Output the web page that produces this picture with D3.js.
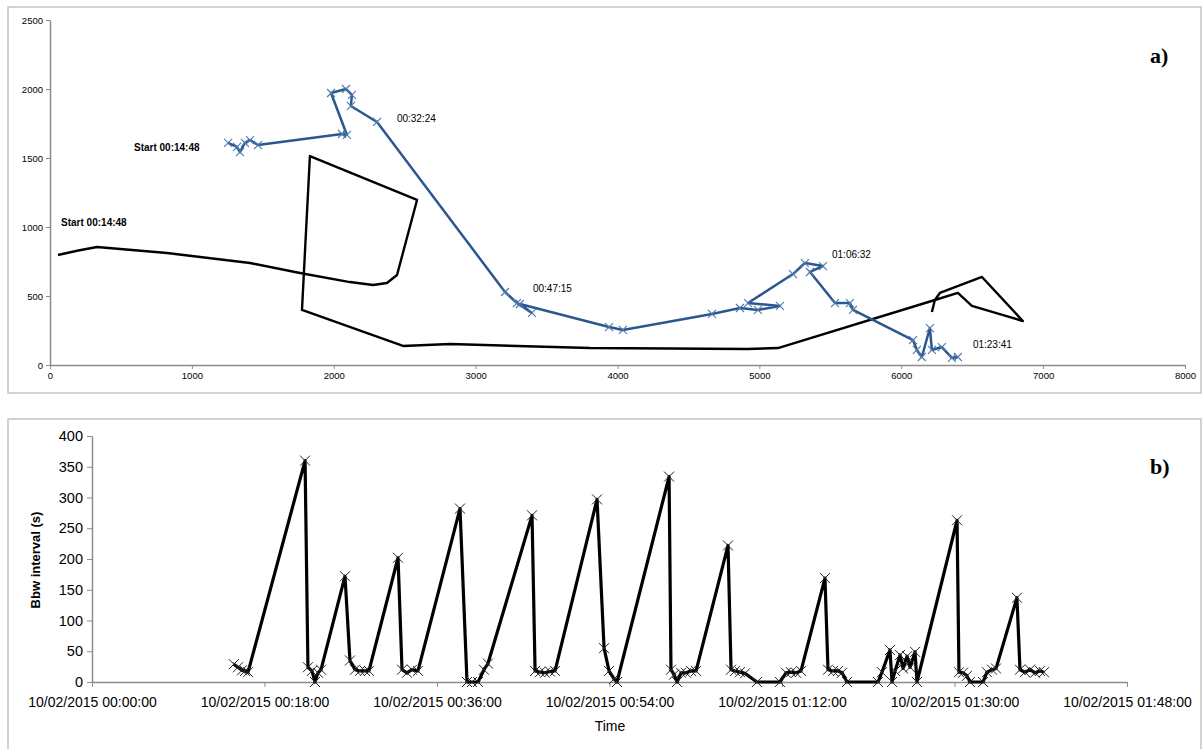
<!DOCTYPE html>
<html>
<head>
<meta charset="utf-8">
<script src="https://cdn.jsdelivr.net/npm/d3@7"></script>
<style>
  body { margin: 0; background: #fff; }
  svg { display: block; }
  .ax text { font-family: "Liberation Sans Narrow", "Arial Narrow", sans-serif; fill: #000; }
</style>
</head>
<body>
<svg width="1203" height="749"></svg>
<script>
// ---- panel a) : positions (m)
const trackX = [56, 200, 331, 825, 1410, 1762, 2114, 2277, 2375, 2446, 2587, 1832, 1776, 2488, 2819, 3806, 4913, 5131, 6237, 6399, 6498, 6857, 6569, 6272, 6237, 6216];
const trackY = [797, 830, 855, 812, 739, 667, 601, 580, 594, 652, 1196, 1514, 399, 138, 152, 123, 116, 123, 471, 522, 428, 319, 638, 522, 471, 384];

const blueX = [1255, 1318, 1339, 1374, 1410, 1466, 2058, 2093, 1981, 2086, 2128, 2121, 2305, 3207, 3291, 3397, 3312, 3940, 4038, 4666, 4863, 4990, 5145, 4920, 5237, 5321, 5448, 5357, 5533, 5638, 5660, 6083, 6110, 6145, 6202, 6216, 6286, 6357, 6399];
const blueY = [1609, 1580, 1543, 1609, 1630, 1594, 1674, 1667, 1971, 2000, 1957, 1877, 1761, 529, 449, 377, 442, 275, 254, 370, 413, 399, 428, 449, 659, 739, 717, 674, 449, 449, 399, 181, 109, 58, 268, 109, 130, 51, 58];

const labelText = ["Start 00:14:48", "Start 00:14:48", "00:32:24", "00:47:15", "01:06:32", "01:23:41"];
const labelX = [592, 78, 2445, 3404, 5512, 6505];
const labelY = [1572, 1029, 1783, 551, 797, 145];

const aTicksX = [0, 1000, 2000, 3000, 4000, 5000, 6000, 7000, 8000];
const aTicksY = [0, 500, 1000, 1500, 2000, 2500];

// ---- panel b) : Bbw interval
const bbwTimes = [
  "00:14:48", "00:15:14", "00:15:39", "00:15:58", "00:16:17", "00:22:14", "00:22:32", "00:22:57", "00:23:16", "00:23:35", "00:23:54",
  "00:26:24", "00:26:55", "00:27:27", "00:27:58", "00:28:29", "00:28:54", "00:31:56", "00:32:21", "00:32:52", "00:33:23", "00:34:01",
  "00:38:24", "00:39:08", "00:39:39", "00:40:17", "00:40:54", "00:41:19", "00:45:55", "00:46:14", "00:46:45", "00:47:16", "00:47:47", "00:48:19",
  "00:52:42", "00:53:26", "00:53:57", "00:54:28", "00:54:47", "01:00:13", "01:00:25", "01:00:44", "01:01:03", "01:01:28", "01:01:59", "01:02:30", "01:03:02",
  "01:06:22", "01:06:41", "01:07:06", "01:07:37", "01:08:08", "01:09:23", "01:11:47", "01:12:25", "01:12:56", "01:13:28", "01:13:59",
  "01:16:29", "01:16:48", "01:17:19", "01:17:51", "01:18:16", "01:18:47", "01:22:01", "01:22:26", "01:23:16", "01:23:29", "01:23:48", "01:24:19",
  "01:24:38", "01:25:03", "01:25:22", "01:25:53", "01:26:05", "01:30:16", "01:30:28", "01:30:53", "01:31:18", "01:31:37", "01:32:59", "01:33:23",
  "01:33:55", "01:34:20", "01:36:31", "01:36:50", "01:37:21", "01:37:53", "01:38:24", "01:38:55", "01:39:20"
];
const bbwValues = [
  29, 24, 19, 18, 16, 360, 24, 18, 0, 15, 20,
  172, 35, 20, 18, 18, 18, 202, 20, 15, 20, 18,
  282, 0, 0, 0, 20, 30, 271, 18, 16, 15, 17, 18,
  297, 55, 18, 5, 0, 334, 20, 12, 0, 15, 15, 18, 18,
  222, 20, 18, 16, 14, 0, 0, 15, 16, 15, 18,
  169, 20, 18, 18, 15, 0, 0, 16, 52, 0, 18, 44,
  22, 42, 24, 49, 0, 263, 16, 15, 10, 0, 0, 16,
  20, 22, 137, 20, 16, 20, 15, 18, 16
];

const bTicksTime = ["00:00:00", "00:18:00", "00:36:00", "00:54:00", "01:12:00", "01:30:00", "01:48:00"];
const bTicksY = [0, 50, 100, 150, 200, 250, 300, 350, 400];

const svg = d3.select("svg");
const blue = "#2b5790";

// cadres des deux panneaux
svg.append("rect").attr("x", 8).attr("y", 7).attr("width", 1193).attr("height", 386)
  .attr("fill", "none").attr("stroke", "#c4c4c4").attr("stroke-width", 1.5);
svg.append("rect").attr("x", 8).attr("y", 419).attr("width", 1193).attr("height", 340)
  .attr("fill", "none").attr("stroke", "#c4c4c4").attr("stroke-width", 1.5);

function cross(s) {
  return `M${-s},${-s}L${s},${s}M${-s},${s}L${s},${-s}`;
}

function styleAxis(g, size) {
  g.attr("class", "ax");
  g.selectAll("path.domain").attr("stroke", "#8c8c8c").attr("stroke-width", 1.5);
  g.selectAll(".tick line").attr("stroke", "#8c8c8c");
  g.selectAll(".tick text").style("font-size", size + "px");
}

// ---------- panel a)
const xA = d3.scaleLinear().domain([0, 8000]).range([50, 1185]);
const yA = d3.scaleLinear().domain([0, 2500]).range([365, 20]);

svg.append("g").attr("transform", "translate(0,365)")
  .call(d3.axisBottom(xA).tickValues(aTicksX).tickSize(4).tickSizeOuter(0).tickFormat(d3.format("d")))
  .call(g => styleAxis(g, 9.5));
svg.append("g").attr("transform", "translate(50,0)")
  .call(d3.axisLeft(yA).tickValues(aTicksY).tickSize(4).tickSizeOuter(0).tickFormat(d3.format("d")))
  .call(g => styleAxis(g, 9.5));

const track = trackX.map((x, i) => [x, trackY[i]]);
svg.append("path").datum(track)
  .attr("fill", "none").attr("stroke", "#000").attr("stroke-width", 2.4).attr("stroke-linejoin", "round")
  .attr("d", d3.line().x(d => xA(d[0])).y(d => yA(d[1])));

const bluePts = blueX.map((x, i) => [x, blueY[i]]);
svg.append("path").datum(bluePts)
  .attr("fill", "none").attr("stroke", blue).attr("stroke-width", 2.5).attr("stroke-linejoin", "round")
  .attr("d", d3.line().x(d => xA(d[0])).y(d => yA(d[1])));
svg.selectAll(".bm").data(bluePts).enter().append("path")
  .attr("transform", d => `translate(${xA(d[0])},${yA(d[1])})`)
  .attr("d", cross(4)).attr("stroke", "#4d79ad").attr("stroke-width", 1.1).attr("fill", "none");

svg.selectAll(".lbl").data(labelText).enter().append("text")
  .attr("x", (d, i) => xA(labelX[i])).attr("y", (d, i) => yA(labelY[i]))
  .attr("dominant-baseline", "middle")
  .style("font-family", "'Liberation Sans Narrow', 'Arial Narrow', sans-serif")
  .style("font-size", "10px").style("font-weight", (d, i) => i < 2 ? "bold" : "normal")
  .text(d => d);

svg.append("text").attr("x", 1150).attr("y", 63).text("a)")
  .style("font-family", "'Liberation Serif', serif").style("font-weight", "bold").style("font-size", "22px");

// ---------- panel b)
const parseT = d3.timeParse("%H:%M:%S");
const xB = d3.scaleTime().domain([parseT("00:00:00"), parseT("01:48:00")]).range([92, 1127]);
const yB = d3.scaleLinear().domain([0, 400]).range([682, 436]);

svg.append("g").attr("transform", "translate(0,682)")
  .call(d3.axisBottom(xB).tickValues(bTicksTime.map(parseT)).tickSize(5).tickSizeOuter(0)
    .tickFormat(d => "10/02/2015 " + d3.timeFormat("%H:%M:%S")(d)))
  .call(g => styleAxis(g, 14))
  .call(g => g.selectAll(".tick text").attr("dy", "1.2em"));
svg.append("g").attr("transform", "translate(92,0)")
  .call(d3.axisLeft(yB).tickValues(bTicksY).tickSize(5).tickSizeOuter(0))
  .call(g => styleAxis(g, 14.5))
  .call(g => g.selectAll(".tick text").attr("x", -9));

const bbw = bbwTimes.map((t, i) => [parseT(t), bbwValues[i]]);
svg.append("path").datum(bbw)
  .attr("fill", "none").attr("stroke", "#000").attr("stroke-width", 3.2).attr("stroke-linejoin", "round")
  .attr("d", d3.line().x(d => xB(d[0])).y(d => yB(d[1])));
svg.selectAll(".km").data(bbw).enter().append("path")
  .attr("transform", d => `translate(${xB(d[0])},${yB(d[1])})`)
  .attr("d", cross(5)).attr("stroke", "#222").attr("stroke-width", 1).attr("fill", "none");

svg.append("text").attr("x", 610).attr("y", 731).attr("text-anchor", "middle").text("Time")
  .style("font-family", "'Liberation Sans Narrow', 'Arial Narrow', sans-serif").style("font-size", "14px");
svg.append("text").attr("transform", "translate(40,560) rotate(-90)").attr("text-anchor", "middle")
  .text("Bbw interval (s)")
  .style("font-family", "'Liberation Sans Narrow', 'Arial Narrow', sans-serif").style("font-size", "13px").style("font-weight", "bold");

svg.append("text").attr("x", 1150).attr("y", 474).text("b)")
  .style("font-family", "'Liberation Serif', serif").style("font-weight", "bold").style("font-size", "22px");
</script>
</body>
</html>
